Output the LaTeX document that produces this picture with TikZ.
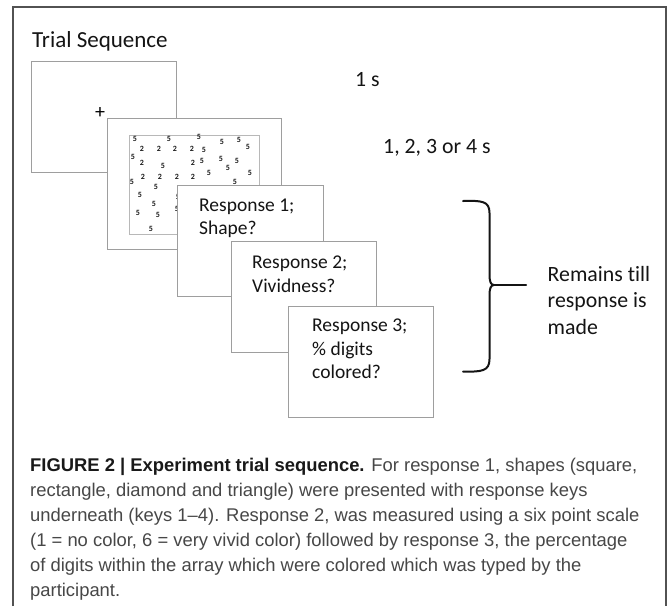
\documentclass[tikz,border=0pt]{standalone}
\usepackage{fontspec}
\setmainfont{Carlito}[Ligatures=CommonOff]
\newfontfamily\capfont{Liberation Sans}
\tikzset{
  frame/.style={draw=black!68, line width=1.4pt},
  screen/.style={draw=black!38, line width=1.1pt, fill=white, anchor=north west, inner sep=0pt},
  arraybox/.style={draw=black!28, line width=0.9pt, fill=white, anchor=north west, inner sep=0pt},
  lbl/.style={anchor=base west, inner sep=0pt, text=black!92},
  resp/.style={lbl, font=\fontsize{19.5}{23}\selectfont},
  tim/.style={lbl, font=\fontsize{21.8}{26}\selectfont},
  dig/.style={inner sep=0pt, text=black!90, font=\fontsize{8}{8}\selectfont\bfseries},
  capline/.style={anchor=base west, inner sep=0pt, text=black!72, font=\capfont\fontsize{18.4}{25}\selectfont},
  bracestyle/.style={draw=black!92, line width=2pt, line cap=round}
}
\begin{document}
\begin{tikzpicture}[x=1pt, y=-1pt]
\useasboundingbox (0,0) rectangle (671,606);
\fill[white] (0,0) rectangle (671,606);
% outer frame (open at the bottom)
\draw[frame] (13,606) -- (13,7) -- (666,7) -- (666,606);
% title
\node[lbl, font=\fontsize{23}{25}\selectfont] (title) at (32,47) {Trial Sequence};
% screen 1: fixation
\node[screen, minimum width=145, minimum height=111] (s1) at (31,61) {};
\node[inner sep=0pt, font=\fontsize{20}{20}\selectfont] (fix) at (100,113) {+};
% screen 2: digit array
\node[screen, minimum width=174, minimum height=131] (s2) at (107,118) {};
\node[arraybox, minimum width=130, minimum height=99] (arr) at (129,135) {};
\foreach \px/\py/\c in {
 135/139/5, 169/139/5, 199/137/5, 222/142/5, 239/140/5, 248/147/5,
 142/149/2, 159/149/2, 175/149/2, 192/149/2, 204/150/5,
 133/157/5, 142/163/2, 163/166/5, 193/163/2, 202/161/5, 221/159/5, 237/161/5,
 228/168/5, 209/173/5, 250/173/5,
 143/177/2, 160/177/2, 177/177/2, 193/177/2,
 132/182/5, 156/187/5, 235/182/5,
 140/195/5, 154/204/5, 138/213/5, 158/215/5, 151/229/5,
 178/197/5, 177/209/5}
  \node[dig] at (\px,\py) {\c};
% screen 3
\node[screen, minimum width=146, minimum height=111] (s3) at (177,185) {};
\node[resp] (r1a) at (199,211) {Response 1;};
\node[resp] (r1b) at (199,234) {Shape?};
% screen 4
\node[screen, minimum width=145, minimum height=111] (s4) at (231,241) {};
\node[resp] (r2a) at (252,268) {Response 2;};
\node[resp] (r2b) at (252,292) {Vividness?};
% screen 5
\node[screen, minimum width=145, minimum height=111] (s5) at (288,306) {};
\node[resp] (r3a) at (312,331.5) {Response 3;};
\node[resp] (r3b) at (312,355) {\% digits};
\node[resp] (r3c) at (312,378.5) {colored?};
% durations
\node[tim] (t1) at (355,86) {1 s};
\node[tim] (t2) at (383,153) {1, 2, 3 or 4 s};
% brace
\coordinate (bt) at (463,201);
\coordinate (bb) at (463,371.5);
\coordinate (bm) at (494,285);
\coordinate (be) at (526,285);
\draw[bracestyle] (bt) .. controls (482,200.5) and (489.5,201) .. (489.5,213)
  -- (489.5,275) .. controls (489.5,282) and (491,285) .. (bm)
  .. controls (491,285) and (489.5,288) .. (489.5,295)
  -- (489.5,359) .. controls (489.5,371) and (482,372) .. (bb);
\draw[bracestyle] (bm) -- (be);
\node[tim] (rm1) at (547.5,281) {Remains till};
\node[tim] (rm2) at (547.5,307.5) {response is};
\node[tim] (rm3) at (547.5,334) {made};
% caption
\node[capline] (c1) at (30,471) {{\color{black!90}\bfseries FIGURE 2 | Experiment trial sequence.} For response 1, shapes (square,};
\node[capline] (c2) at (30,496) {rectangle, diamond and triangle) were presented with response keys};
\node[capline] (c3) at (30,521) {underneath (keys 1–4). Response 2, was measured using a six point scale};
\node[capline] (c4) at (30,546) {(1 = no color, 6 = very vivid color) followed by response 3, the percentage};
\node[capline] (c5) at (30,571) {of digits within the array which were colored which was typed by the};
\node[capline] (c6) at (30,596) {participant.};
\end{tikzpicture}
\end{document}
